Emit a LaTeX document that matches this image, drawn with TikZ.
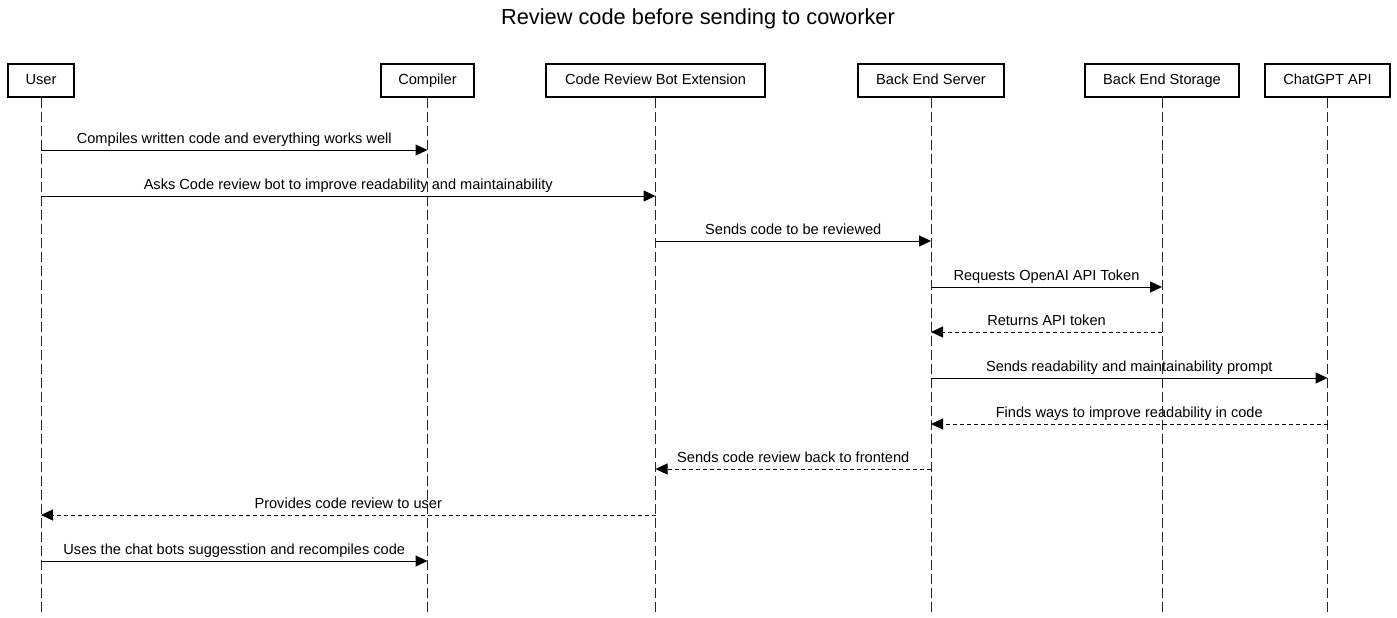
\documentclass[tikz,border=0pt]{standalone}
\usepackage{fontspec}
\setmainfont{Liberation Sans}
\usetikzlibrary{arrows.meta}
\begin{document}
\begin{tikzpicture}[x=1pt,y=-1pt,
  actor/.style={draw=black,line width=2pt,fill=white,minimum height=33pt,inner sep=0pt,text height=10.5pt,text depth=3pt,font=\fontsize{14.6}{17}\selectfont},
  lifeline/.style={line width=1pt,draw=black!85,dash pattern=on 10pt off 4pt},
  msg/.style={line width=1pt,-{Triangle[length=12pt,width=11pt]}},
  ret/.style={msg,dash pattern=on 4pt off 3pt},
  lbl/.style={midway,anchor=base,yshift=6.5pt,inner sep=0pt,font=\fontsize{14.6}{17}\selectfont}
]
\useasboundingbox[fill=white] (0,0) rectangle (1397,618);
\node[font=\fontsize{21.8}{26}\selectfont] (title) at (698,19) {Review code before sending to coworker};

\node[actor,minimum width=66pt] (user) at (41,80.5) {User};
\node[actor,minimum width=93pt] (comp) at (427.5,80.5) {Compiler};
\node[actor,minimum width=219pt] (bot) at (655.5,80.5) {Code Review Bot Extension};
\node[actor,minimum width=146pt] (srv) at (931,80.5) {Back End Server};
\node[actor,minimum width=154pt] (sto) at (1162,80.5) {Back End Storage};
\node[actor,minimum width=125pt] (gpt) at (1327.5,80.5) {ChatGPT API};

\coordinate (bottom) at (0,612);
\foreach \n in {user,comp,bot,srv,sto,gpt}{
  \draw[lifeline] (\n.south) -- (\n |- bottom);
}

\coordinate (r1) at (0,150);
\coordinate (r2) at (0,196);
\coordinate (r3) at (0,241);
\coordinate (r4) at (0,287);
\coordinate (r5) at (0,332);
\coordinate (r6) at (0,378);
\coordinate (r7) at (0,424);
\coordinate (r8) at (0,469);
\coordinate (r9) at (0,515);
\coordinate (r10) at (0,561);

\draw[msg] (user |- r1) -- node[lbl]{Compiles written code and everything works well} (comp |- r1);
\draw[msg] (user |- r2) -- node[lbl]{Asks Code review bot to improve readability and maintainability} (bot |- r2);
\draw[msg] (bot |- r3) -- node[lbl]{Sends code to be reviewed} (srv |- r3);
\draw[msg] (srv |- r4) -- node[lbl]{Requests OpenAI API Token} (sto |- r4);
\draw[ret] (sto |- r5) -- node[lbl]{Returns API token} (srv |- r5);
\draw[msg] (srv |- r6) -- node[lbl]{Sends readability and maintainability prompt} (gpt |- r6);
\draw[ret] (gpt |- r7) -- node[lbl]{Finds ways to improve readability in code} (srv |- r7);
\draw[ret] (srv |- r8) -- node[lbl]{Sends code review back to frontend} (bot |- r8);
\draw[ret] (bot |- r9) -- node[lbl]{Provides code review to user} (user |- r9);
\draw[msg] (user |- r10) -- node[lbl]{Uses the chat bots suggesstion and recompiles code} (comp |- r10);
\end{tikzpicture}
\end{document}
